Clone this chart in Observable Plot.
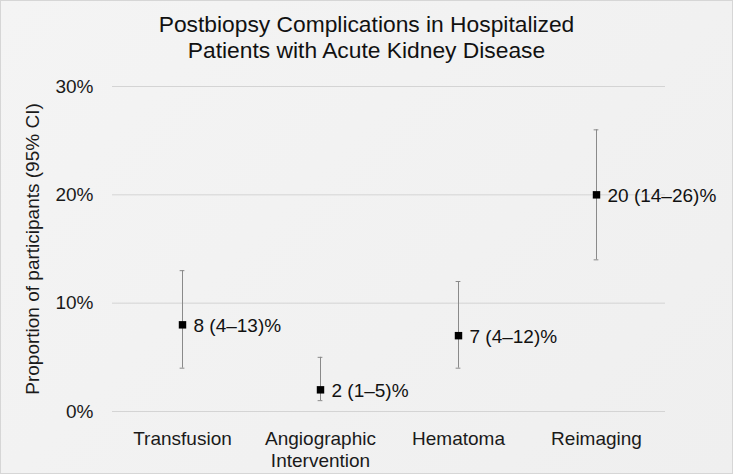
<!DOCTYPE html>
<html>
<head>
<meta charset="utf-8">
<script src="https://cdn.jsdelivr.net/npm/d3@7"></script>
<script src="https://cdn.jsdelivr.net/npm/@observablehq/plot@0.6"></script>
<style>
  html, body { margin: 0; padding: 0; background: #fff; }
  #wrap {
    position: relative; width: 733px; height: 474px; overflow: hidden;
    background: linear-gradient(135deg, #f4f4f4 0%, #efefef 100%);
    box-shadow: inset 0 0 0 1px #d6d6d6;
    font-family: "Liberation Sans", Arial, sans-serif;
  }
  #title {
    height: 70px; box-sizing: border-box; padding-top: 11px;
    text-align: center; font-size: 22.8px; line-height: 26px; color: #111;
  }
  #chart svg { display: block; background: transparent; overflow: visible; }
</style>
</head>
<body>
<div id="wrap">
  <div id="title">Postbiopsy Complications in Hospitalized<br>Patients with Acute Kidney Disease</div>
  <div id="chart"></div>
</div>
<script>
const categories = ["Transfusion", "Angiographic\nIntervention", "Hematoma", "Reimaging"];
const estimates = [8, 2, 7, 20];
const lower = [4, 1, 4, 14];
const upper = [13, 5, 12, 26];
const yTicks = [0, 10, 20, 30];
const yLabel = "Proportion of participants (95% CI)";

const data = categories.map((c, i) => ({
  cat: c, est: estimates[i], lo: lower[i], hi: upper[i],
  label: `${estimates[i]} (${lower[i]}–${upper[i]})%`
}));

const W = 733, H = 404, mL = 112, mR = 68;
const bandwidth = (W - mL - mR) / categories.length;
const capHalf = 2.5;

const chart = Plot.plot({
  width: W,
  height: H,
  marginLeft: mL,
  marginRight: mR,
  marginTop: 16,
  marginBottom: 63,
  style: { fontFamily: "Liberation Sans, Arial, sans-serif", fontSize: "19px", color: "#1a1a1a", background: "transparent" },
  x: { type: "band", domain: categories, padding: 0 },
  y: { domain: [0, 30] },
  marks: [
    Plot.ruleY(yTicks, { stroke: "#d4d4d4", strokeWidth: 1 }),
    Plot.axisY({ ticks: yTicks, tickFormat: d => d + "%", tickSize: 0, tickPadding: 19, label: null, fontSize: 19 }),
    Plot.axisX({ tickSize: 0, tickPadding: 18.5, label: null, fontSize: 19, lineHeight: 1.14 }),
    Plot.text([yLabel], { frameAnchor: "left", textAnchor: "middle", dx: -80, rotate: -90, fontSize: 19, fill: "#1a1a1a" }),
    Plot.ruleX(data, { x: "cat", y1: "lo", y2: "hi", stroke: "#8a8a8a", strokeWidth: 1 }),
    Plot.tickY(data, { x: "cat", y: "lo", stroke: "#8a8a8a", insetLeft: bandwidth / 2 - capHalf, insetRight: bandwidth / 2 - capHalf }),
    Plot.tickY(data, { x: "cat", y: "hi", stroke: "#8a8a8a", insetLeft: bandwidth / 2 - capHalf, insetRight: bandwidth / 2 - capHalf }),
    Plot.dot(data, { x: "cat", y: "est", symbol: "square", r: 4.2, fill: "#000", stroke: "none" }),
    Plot.text(data, { x: "cat", y: "est", text: "label", textAnchor: "start", dx: 11, dy: 1, fontSize: 19, fill: "#111" })
  ]
});
document.getElementById("chart").appendChild(chart);
</script>
</body>
</html>
